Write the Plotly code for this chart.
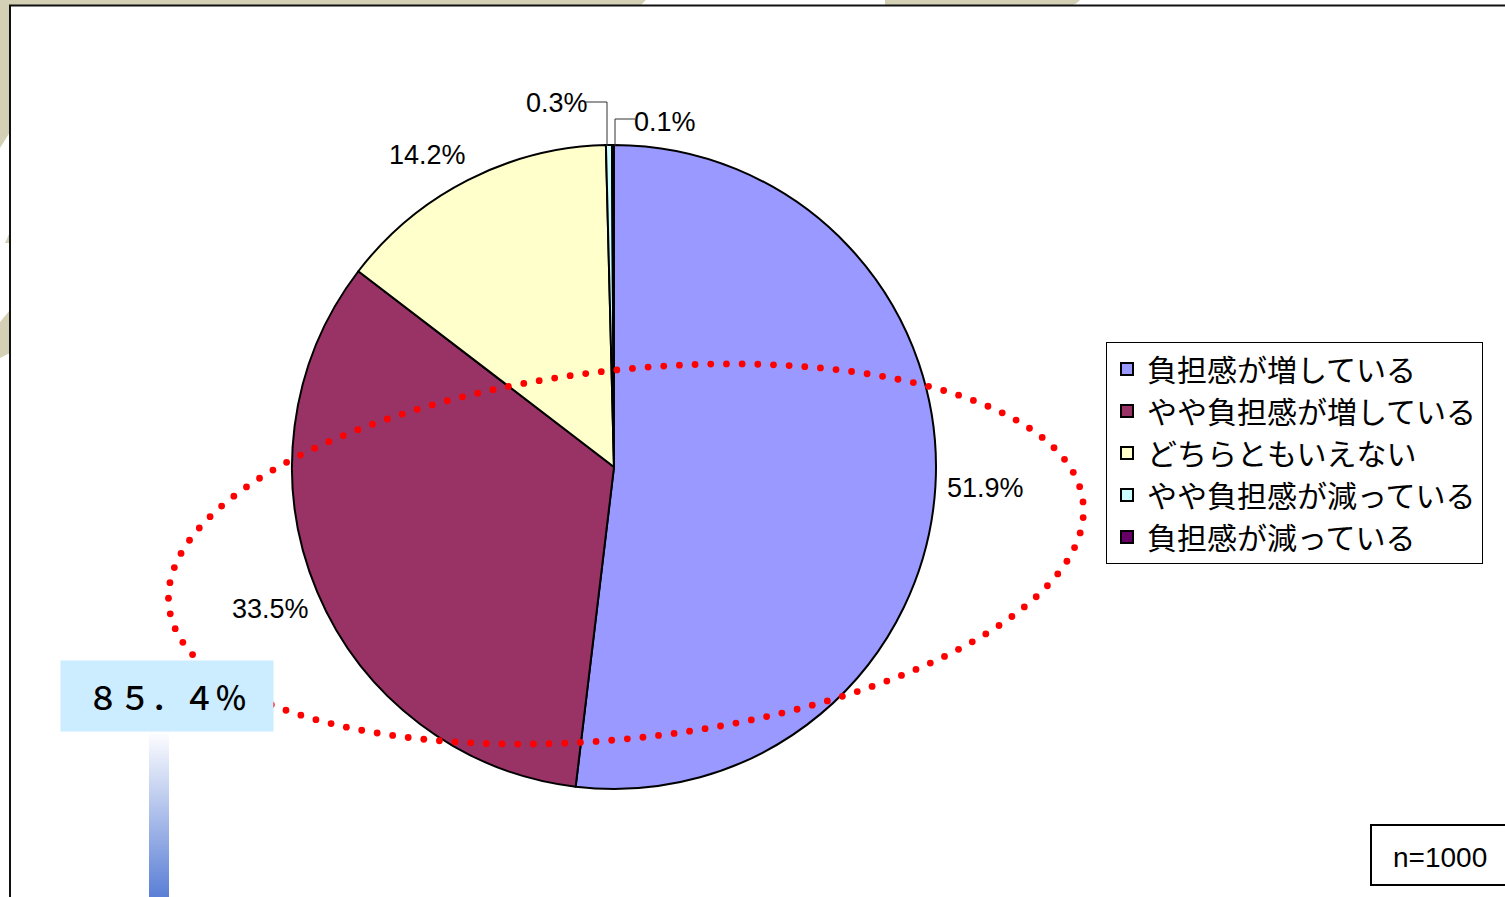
import numpy as np
import plotly.graph_objects as go

# ---------------- data ----------------
categories = ["負担感が増している", "やや負担感が増している", "どちらともいえない",
              "やや負担感が減っている", "負担感が減っている"]
shares = [51.9, 33.5, 14.2, 0.3, 0.1]
colors = ["#9999FF", "#993366", "#FFFFCC", "#CCFFFF", "#660066"]
highlight_label = "８５．４％"
sample_label = "n=1000"

# ---------------- layout constants (pixels) ----------------
W, H = 1505, 897
CX, CY, R = 614, 467, 322
label_xy = [(985, 488), (270, 609), (427, 155), (557, 103), (665, 122)]
NARROW = "Liberation Sans Narrow, Arial Narrow, Liberation Sans, Arial, sans-serif"
CJK = "Noto Sans CJK JP, sans-serif"
BEIGE = "#D3D0B5"

fig = go.Figure()

# pie
fig.add_trace(go.Pie(
    labels=categories, values=shares, sort=False, direction="clockwise", rotation=0,
    marker=dict(colors=colors, line=dict(color="black", width=2)),
    textinfo="none", hoverinfo="label+percent",
    domain=dict(x=[(CX - R) / W, (CX + R) / W], y=[1 - (CY + R) / H, 1 - (CY - R) / H]),
    showlegend=True,
))

# gradient bar under the highlight box
fig.add_trace(go.Scatter(
    x=[149, 169, 169, 149, 149], y=[731, 731, 897, 897, 731], mode="lines",
    line=dict(width=0), fill="toself",
    fillgradient=dict(type="vertical", start=731, stop=897,
                      colorscale=[[0, "#FFFFFF"], [1, "#5B7FD6"]]),
    hoverinfo="skip", showlegend=False, xaxis="x", yaxis="y",
))

shapes = []
# beige decoration behind the panel
shapes += [
    dict(type="path", path="M0,0 L646,0 L640,6 L0,6 Z", fillcolor=BEIGE, line_width=0, layer="below"),
    dict(type="path", path="M885,0 L1080,0 Q1075,6 1065,6 L885,6 Z", fillcolor=BEIGE, line_width=0, layer="below"),
    dict(type="path", path="M0,0 L10,0 L10,132 L0,148 Z", fillcolor=BEIGE, line_width=0, layer="below"),
    dict(type="path", path="M10,232 L10,243 L5,243 Z", fillcolor=BEIGE, line_width=0, layer="below"),
    dict(type="path", path="M0,322 L10,310 L10,353 L0,358 Z", fillcolor=BEIGE, line_width=0, layer="below"),
]
# white panel with black border
shapes.append(dict(type="rect", x0=10, y0=5.5, x1=W + 10, y1=H + 10, xref="x", yref="y",
                   fillcolor="white", line=dict(color="#111111", width=2), layer="below"))

# leader lines for small slices
shapes.append(dict(type="path", path="M586,102 L607,102 L607,146", line=dict(color="#333333", width=1), layer="above"))
shapes.append(dict(type="path", path="M635,119 L615,119 L615,146", line=dict(color="#333333", width=1), layer="above"))

# red dotted ellipse
ecx, ecy, ea, eb, eang = 626, 554, 460, 184, np.deg2rad(-6.5)
t = np.linspace(0, 2 * np.pi, 4000)
ex = ecx + ea * np.cos(t) * np.cos(eang) - eb * np.sin(t) * np.sin(eang)
ey = ecy + ea * np.cos(t) * np.sin(eang) + eb * np.sin(t) * np.cos(eang)
seg = np.hypot(np.diff(ex), np.diff(ey))
cum = np.concatenate([[0], np.cumsum(seg)])
n_dots = int(cum[-1] // 15.6)
targets = np.linspace(0, cum[-1], n_dots, endpoint=False)
dx = np.interp(targets, cum, ex)
dy = np.interp(targets, cum, ey)
rd = 3.4
for px, py in zip(dx, dy):
    shapes.append(dict(type="circle", xref="x", yref="y", x0=px - rd, x1=px + rd, y0=py - rd, y1=py + rd,
                       fillcolor="#FF0000", line_width=0, layer="above"))

# n box
shapes.append(dict(type="rect", xref="x", yref="y", x0=1371, y0=825, x1=W + 10, y1=885,
                   fillcolor="white", line=dict(color="black", width=2), layer="above"))

for s in shapes:
    s.setdefault("xref", "x")
    s.setdefault("yref", "y")

annotations = []
for v, (lx, ly) in zip(shares, label_xy):
    annotations.append(dict(x=lx, y=ly, xref="x", yref="y", text=f"{v}%", showarrow=False,
                            xanchor="center", yanchor="middle",
                            font=dict(family=NARROW, size=27, color="black")))
annotations.append(dict(x=167, y=696, xref="x", yref="y", text=highlight_label, showarrow=False,
                        xanchor="center", yanchor="middle", width=212, height=70,
                        bgcolor="#CCECFF", borderpad=0,
                        font=dict(family=CJK, size=32, color="black", weight=500)))
annotations.append(dict(x=1440, y=857, xref="x", yref="y", text=sample_label, showarrow=False,
                        xanchor="center", yanchor="middle",
                        font=dict(family="Liberation Sans, Arial, sans-serif", size=28, color="black")))

fig.update_layout(
    width=W, height=H, margin=dict(l=0, r=0, t=0, b=0),
    paper_bgcolor="white", plot_bgcolor="rgba(0,0,0,0)",
    xaxis=dict(range=[0, W], visible=False, fixedrange=True, domain=[0, 1]),
    yaxis=dict(range=[H, 0], visible=False, fixedrange=True, domain=[0, 1]),
    shapes=shapes, annotations=annotations,
    legend=dict(x=1106 / W, y=1 - 342 / H, xanchor="left", yanchor="top",
                bgcolor="white", bordercolor="black", borderwidth=1,
                font=dict(family=CJK, size=30, color="black"), traceorder="normal"),
    showlegend=True,
)

fig.write_html("out.html", config={"displayModeBar": False},
               post_script="document.body.style.margin='0px';")
